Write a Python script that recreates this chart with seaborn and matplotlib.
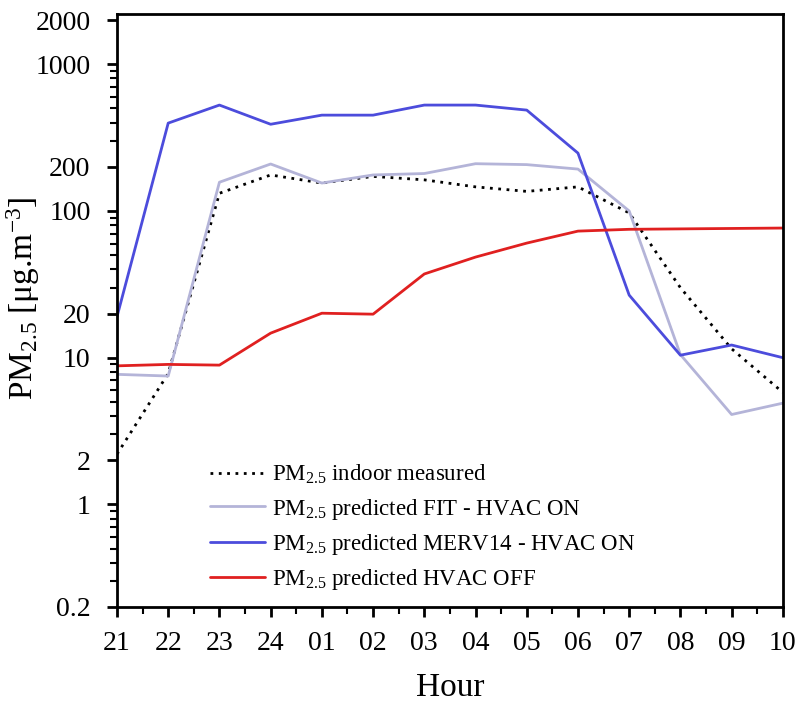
import matplotlib
matplotlib.use("Agg")
import matplotlib.pyplot as plt
import matplotlib.ticker as mticker
import seaborn as sns
import pandas as pd

HOURS = ["21", "22", "23", "24", "01", "02", "03", "04", "05", "06", "07", "08", "09", "10"]

MEASURED = [2.2, 7.8, 132, 176, 155, 172, 163, 146, 136, 146, 97, 30, 11.5, 5.8]
FIT_ON = [7.7, 7.5, 157, 209, 155, 176, 180, 210, 207, 193, 100, 10.5, 4.1, 4.9]
MERV14_ON = [19, 397, 527, 390, 450, 450, 527, 527, 487, 248, 26.7, 10.4, 12.2, 10.0]
HVAC_OFF = [8.8, 9.0, 8.9, 14.7, 20.1, 19.8, 37.2, 48.5, 60.4, 72.9, 75, 75.5, 76, 76.5]

SERIES = {
    "PM$_{2.5}$ indoor measured": MEASURED,
    "PM$_{2.5}$ predicted FIT - HVAC ON": FIT_ON,
    "PM$_{2.5}$ predicted MERV14 - HVAC ON": MERV14_ON,
    "PM$_{2.5}$ predicted HVAC OFF": HVAC_OFF,
}
COLORS = ["black", "#b4b4d8", "#4c4cdc", "#e02020"]
STYLES = [(0, (1, 2)), "-", "-", "-"]

Y_TICKS = [0.2, 1, 2, 10, 20, 100, 200, 1000, 2000]


def build_frame() -> pd.DataFrame:
    rows = []
    for name, values in SERIES.items():
        for hour, v in zip(HOURS, values):
            rows.append({"Hour": hour, "PM": v, "Series": name})
    return pd.DataFrame(rows)


sns.set_style("ticks")
plt.rcParams["font.family"] = ["Liberation Serif", "DejaVu Serif"]
plt.rcParams["mathtext.fontset"] = "custom"
plt.rcParams["mathtext.rm"] = "Liberation Serif"
plt.rcParams["mathtext.it"] = "Liberation Serif:italic"
plt.rcParams["mathtext.default"] = "rm"
plt.rcParams["text.color"] = "black"
plt.rcParams["axes.labelcolor"] = "black"
plt.rcParams["xtick.color"] = "black"
plt.rcParams["ytick.color"] = "black"
plt.rcParams["axes.edgecolor"] = "black"

df = build_frame()

fig = plt.figure(figsize=(7.98, 7.08), dpi=100)
ax = fig.add_axes([0.1466, 0.1427, 0.8344, 0.8375])

for (name, _), color, ls in zip(SERIES.items(), COLORS, STYLES):
    sns.lineplot(
        data=df[df["Series"] == name], x="Hour", y="PM", ax=ax,
        color=color, linestyle=ls, linewidth=2, label=name, sort=False,
    )

ax.set_yscale("log")
ax.set_ylim(0.2, 2200)
ax.set_xlim(0, len(HOURS) - 1)

ax.yaxis.set_major_locator(mticker.FixedLocator(Y_TICKS))
ax.yaxis.set_major_formatter(mticker.FixedFormatter([f"{t:g}" for t in Y_TICKS]))
ax.yaxis.set_minor_locator(mticker.LogLocator(base=10, subs=[3, 4, 5, 6, 7, 8, 9]))
ax.yaxis.set_minor_formatter(mticker.NullFormatter())
ax.xaxis.set_minor_locator(mticker.MultipleLocator(0.5))

ax.tick_params(axis="both", which="major", direction="out", length=7, width=2, labelsize=20)
ax.tick_params(axis="x", which="major", pad=10)
ax.tick_params(axis="y", which="major", pad=12)
ax.tick_params(axis="both", which="minor", direction="out", length=5, width=1.5)
for sp in ax.spines.values():
    sp.set_linewidth(2)

ax.set_xlabel("Hour", fontsize=24, labelpad=12)
ax.set_ylabel("PM$_{2.5}$ [μg.m$^{-3}$]", fontsize=24)
ax.yaxis.set_label_coords(-0.113, 0.52)

ax.legend(
    loc="lower left", bbox_to_anchor=(0.14, 0.025), frameon=False, fontsize=16.5,
    handlelength=2.4, handletextpad=0.3, labelspacing=0.45,
    borderpad=0, borderaxespad=0,
)

fig.savefig("out.png", dpi=100)
